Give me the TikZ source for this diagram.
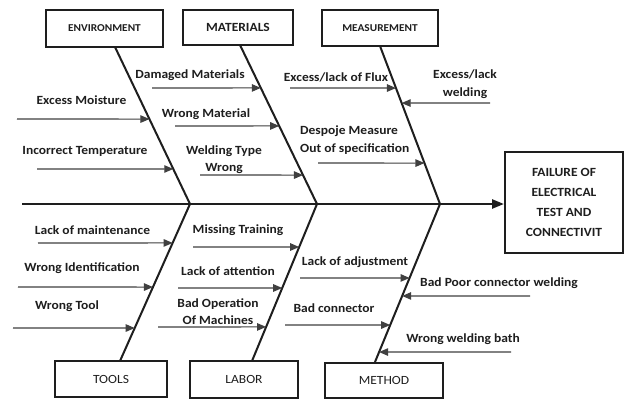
\documentclass[tikz,border=0pt]{standalone}
\usepackage{fontspec}
\setmainfont[FakeStretch=1.08]{Carlito}
\usetikzlibrary{arrows.meta,calc}
\definecolor{ink}{RGB}{30,30,30}
\begin{document}
\begin{tikzpicture}[x=1pt,y=-1pt,
  catbox/.style={draw=ink,line width=2pt,rectangle,inner sep=0pt,text=ink},
  toplab/.style={font=\bfseries\fontsize{10.5}{12}\selectfont},
  botlab/.style={font=\fontsize{12.5}{14}\selectfont},
  bone/.style={draw=ink,line width=2pt},
  sub/.style={draw=ink!85,line width=1.1pt,-{Triangle[length=9pt,width=7.5pt]}},
  lab/.style={text=ink,inner sep=0pt,font=\bfseries\fontsize{12.5}{17.5}\selectfont}
]
\useasboundingbox (0,0) rectangle (625,399);
\fill[white] (0,0) rectangle (625,399);

% category boxes
\node[catbox,toplab,minimum width=117pt,minimum height=37pt] (env) at (104.5,28.5) {ENVIRONMENT};
\node[catbox,font=\bfseries\fontsize{12.5}{14}\selectfont,minimum width=110pt,minimum height=35pt] (mat) at (238,27.5) {MATERIALS};
\node[catbox,toplab,minimum width=116pt,minimum height=36pt] (meas) at (380,28) {MEASUREMENT};
\node[catbox,botlab,minimum width=112pt,minimum height=36pt] (tools) at (111,379) {TOOLS};
\node[catbox,botlab,minimum width=108pt,minimum height=37pt] (labor) at (244,379.5) {LABOR};
\node[catbox,botlab,minimum width=118pt,minimum height=35pt] (method) at (384,380.5) {METHOD};
\node[catbox,font=\bfseries\fontsize{12.5}{20}\selectfont,align=center,minimum width=118pt,minimum height=101pt] (eff) at (564,202.5) {FAILURE OF\\ELECTRICAL\\TEST AND\\CONNECTIVIT};

% spine
\coordinate (s0) at (22,204);
\draw[ink,line width=2.4pt,-{Triangle[length=12pt,width=9pt]}] (s0) -- (eff.west |- s0);

% bone ends
\coordinate (j1) at (190,204);
\coordinate (j2) at (317,204);
\coordinate (j3) at (440,204);
\coordinate (eb) at (115,47);
\coordinate (mb) at (240,45);
\coordinate (sb) at (380,46);
\coordinate (tb) at (120,361);
\coordinate (lb) at (252,361);
\coordinate (hb) at (375,362);
\draw[bone] (eb) -- (j1);
\draw[bone] (mb) -- (j2);
\draw[bone] (sb) -- (j3);
\draw[bone] (tb) -- (j1);
\draw[bone] (lb) -- (j2);
\draw[bone] (hb) -- (j3);

% ENVIRONMENT causes
\node[lab] (c1) at (81.5,100) {Excess Moisture};
\coordinate (a1) at (17,119);
\draw[sub] (a1) -- ($(eb)!0.459!(j1)$);
\node[lab] (c2) at (85,151) {Incorrect Temperature};
\coordinate (a2) at (37,169);
\draw[sub] (a2) -- ($(eb)!0.777!(j1)$);

% MATERIALS causes
\node[lab] (c3) at (190,75) {Damaged Materials};
\coordinate (a3) at (152,88);
\draw[sub] (a3) -- ($(mb)!0.270!(j2)$);
\node[lab] (c4) at (206,114) {Wrong Material};
\coordinate (a4) at (175,126);
\draw[sub] (a4) -- ($(mb)!0.509!(j2)$);
\node[lab,align=center] (c5) at (224,159.5) {Welding Type\\Wrong};
\coordinate (a5) at (200,175);
\draw[sub] (a5) -- ($(mb)!0.818!(j2)$);

% MEASUREMENT causes
\node[lab] (c6) at (336,77) {Excess/lack of Flux};
\coordinate (a6) at (290,88);
\draw[sub] (a6) -- ($(sb)!0.266!(j3)$);
\node[lab,align=left,anchor=west] (c7) at (300,140) {Despoje Measure\\Out of specification};
\coordinate (a7) at (318,163);
\draw[sub] (a7) -- ($(sb)!0.741!(j3)$);
\node[lab,align=center] (c8) at (465,84) {Excess/lack\\welding};
\coordinate (a8) at (490,103);
\draw[sub] (a8) -- ($(sb)!0.361!(j3)$);

% TOOLS causes
\node[lab] (c9) at (92.5,230) {Lack of maintenance};
\coordinate (a9) at (38,243);
\draw[sub] (a9) -- ($(j1)!0.248!(tb)$);
\node[lab] (c10) at (82,268) {Wrong Identification};
\coordinate (a10) at (18,287);
\draw[sub] (a10) -- ($(j1)!0.529!(tb)$);
\node[lab] (c11) at (67,306) {Wrong Tool};
\coordinate (a11) at (13,328);
\draw[sub] (a11) -- ($(j1)!0.790!(tb)$);

% LABOR causes
\node[lab] (c12) at (238,230) {Missing Training};
\coordinate (a12) at (193,247);
\draw[sub] (a12) -- ($(j2)!0.274!(lb)$);
\node[lab] (c13) at (228,271) {Lack of attention};
\coordinate (a13) at (178,288);
\draw[sub] (a13) -- ($(j2)!0.535!(lb)$);
\node[lab,align=center] (c14) at (218,311.5) {Bad Operation\\Of Machines};
\coordinate (a14) at (158,327);
\draw[sub] (a14) -- ($(j2)!0.783!(lb)$);

% METHOD causes
\node[lab] (c15) at (355,262) {Lack of adjustment};
\coordinate (a15) at (300,278);
\draw[sub] (a15) -- ($(j3)!0.468!(hb)$);
\node[lab] (c16) at (334,308) {Bad connector};
\coordinate (a16) at (285,325);
\draw[sub] (a16) -- ($(j3)!0.766!(hb)$);
\node[lab] (c17) at (499,283) {Bad Poor connector welding};
\coordinate (a17) at (530,296);
\draw[sub] (a17) -- ($(j3)!0.582!(hb)$);
\node[lab] (c18) at (463,339) {Wrong welding bath};
\coordinate (a18) at (511,352);
\draw[sub] (a18) -- ($(j3)!0.937!(hb)$);
\end{tikzpicture}
\end{document}
